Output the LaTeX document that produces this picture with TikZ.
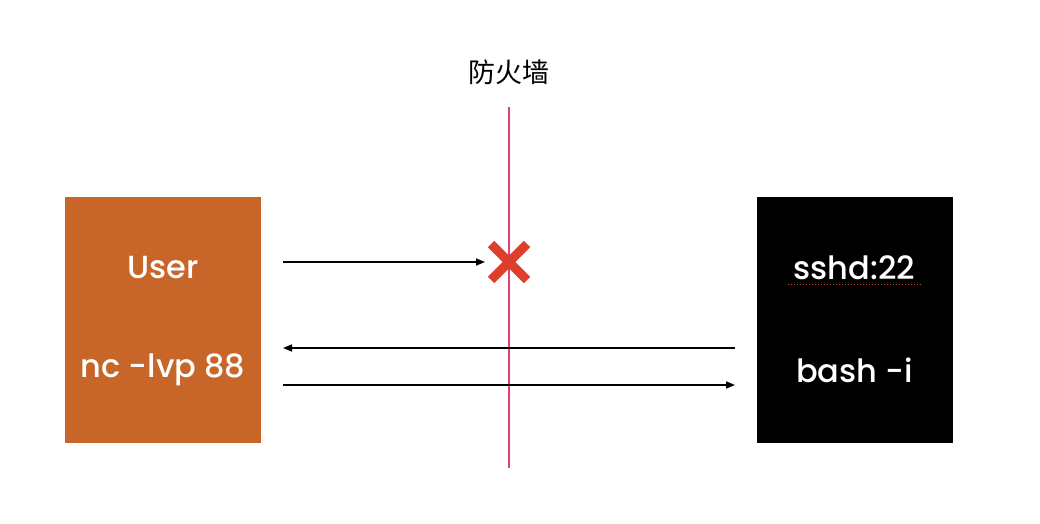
\documentclass[tikz,border=0pt]{standalone}
\usepackage{fontspec}
\setmainfont{Poppins Medium}
\newfontfamily\cjk{Noto Sans CJK SC}
\usetikzlibrary{arrows.meta,calc}
\definecolor{userorange}{HTML}{C8662A}
\definecolor{wallpink}{HTML}{E0407A}
\definecolor{xred}{HTML}{DE3E2C}
\begin{document}
\begin{tikzpicture}[x=1pt,y=-1pt,
  box/.style={minimum width=196pt,minimum height=246pt,inner sep=0pt,outer sep=0pt},
  boxtext/.style={text=white,font=\fontsize{32}{38}\selectfont,inner sep=0pt},
  conn/.style={line width=1.6pt,-{Triangle[length=9pt,width=7pt]}}]
\useasboundingbox (0,0) rectangle (1040,524);
\node[box,fill=userorange] (user) at (163,320) {};
\node[box,fill=black] (server) at (854.5,320) {};
\node[boxtext] (usert) at (163,268) {User};
\node[boxtext] (nc) at (163,370) {nc -lvp 88};
\node[boxtext] (sshd) at (854.5,268) {sshd:22};
\node[boxtext] (bash) at (854.5,370) {bash -i};
\draw[xred,line width=1pt,dotted] (788,284) -- (921,284);
\node[font=\cjk\fontsize{27}{32}\selectfont,inner sep=0pt] (fw) at (509,72) {防火墙};
\coordinate (fwtop) at (509,107);
\coordinate (fwbot) at (509,468);
\draw[wallpink,line width=1.5pt] (fwtop) -- (fwbot);
\coordinate (xc) at (509,262);
\draw[xred,line width=9pt] ($(xc)+(-18,-18)$) -- ($(xc)+(18,18)$);
\draw[xred,line width=9pt] ($(xc)+(-18,18)$) -- ($(xc)+(18,-18)$);
\coordinate (a1s) at (283,262);
\coordinate (a1e) at (485,262);
\coordinate (a2s) at (735,348);
\coordinate (a2e) at (283,348);
\coordinate (a3s) at (283,385);
\coordinate (a3e) at (735,385);
\draw[conn] (a1s) -- (a1e);
\draw[conn] (a2s) -- (a2e);
\draw[conn] (a3s) -- (a3e);
\end{tikzpicture}
\end{document}
